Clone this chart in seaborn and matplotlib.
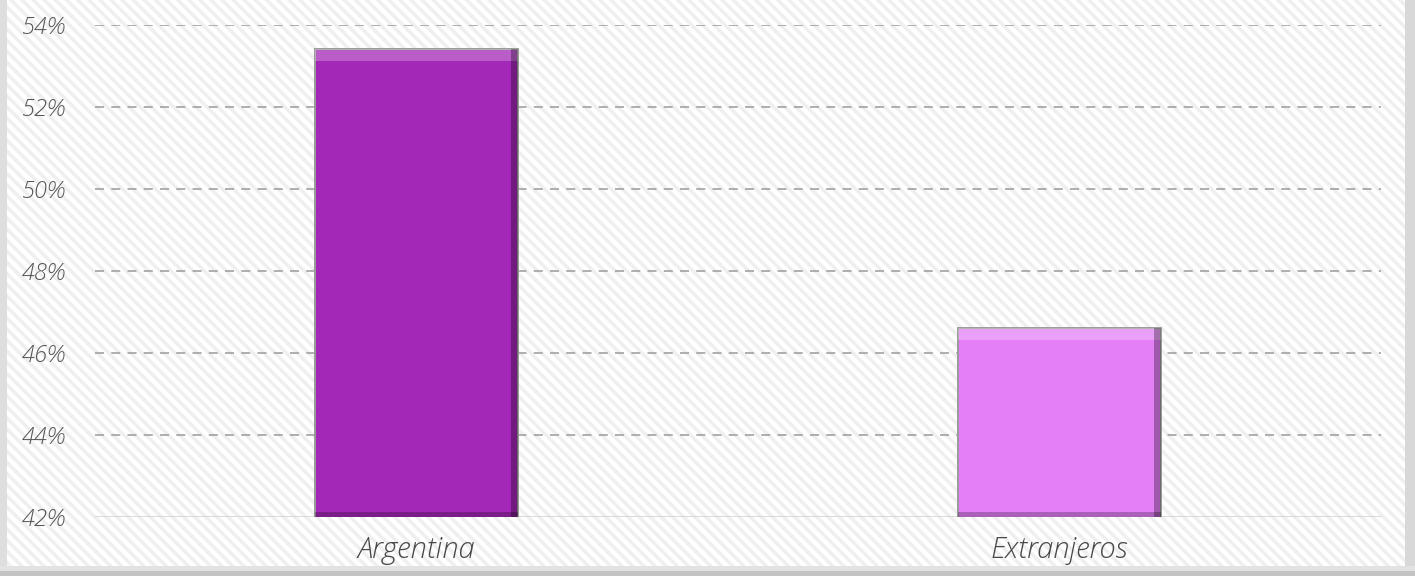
import numpy as np
import pandas as pd
import seaborn as sns
import matplotlib.pyplot as plt
from matplotlib.patches import Rectangle
from matplotlib.ticker import FuncFormatter

# data
categories = ['Argentina', 'Extranjeros']
shares = [53.4, 46.6]
bar_colors = ['#a328b8', '#e47ff8']
y_ticks = [42, 44, 46, 48, 50, 52, 54]

df = pd.DataFrame({'origen': categories, 'pct': shares})

sns.set_theme(style='white')
plt.rcParams['font.family'] = ['Open Sans', 'DejaVu Sans']
plt.rcParams['hatch.color'] = '#efefef'
plt.rcParams['hatch.linewidth'] = 2.5

fig = plt.figure(figsize=(14.15, 5.76), dpi=100)
fig.patch.set_facecolor('white')

# striped background over the whole figure
bg = Rectangle((0, 0), 1, 1, transform=fig.transFigure, facecolor='white',
               edgecolor='#efefef', hatch='\\\\\\', linewidth=0, zorder=-10)
fig.patches.append(bg)
# soft frame shadows (left, right, bottom)
for x0, y0, w, h, c in [(0, 0, 0.005, 1, '#dedede'), (0.993, 0, 0.007, 1, '#d8d8d8'),
                        (0, 0, 1, 0.008, '#c4c4c4'), (0, 0.008, 1, 0.01, '#e2e2e2')]:
    fig.patches.append(Rectangle((x0, y0), w, h, transform=fig.transFigure,
                                 facecolor=c, edgecolor='none', zorder=-5))

ax = fig.add_axes([0.067, 0.102, 0.909, 0.855])
ax.patch.set_alpha(0)

sns.barplot(data=df, x='origen', y='pct', hue='origen', palette=bar_colors,
            saturation=1, width=0.315, legend=False, ax=ax, edgecolor='#9a9a9a',
            linewidth=1.4, zorder=3)

# bevel look: light top strip, darker right and bottom strips
for bar in ax.patches[:len(categories)]:
    x, w, top = bar.get_x(), bar.get_width(), bar.get_height()
    ax.add_patch(Rectangle((x, top - 0.28), w, 0.28, facecolor='white',
                           alpha=0.25, edgecolor='none', zorder=4))
    ax.add_patch(Rectangle((x + w - 0.011, 42), 0.011, top - 42, facecolor='black',
                           alpha=0.3, edgecolor='none', zorder=4))
    ax.add_patch(Rectangle((x, 42), w, 0.12, facecolor='black',
                           alpha=0.25, edgecolor='none', zorder=4))

ax.set_ylim(42, 54)
ax.set_xlim(-0.5, 1.5)
ax.set_yticks(y_ticks)
ax.yaxis.set_major_formatter(FuncFormatter(lambda v, p: f'{v:.0f}%'))
for t in y_ticks[1:]:
    ax.axhline(t, color='#a8a8a8', linestyle=(0, (5, 4)), linewidth=1.3, zorder=1)
ax.axhline(42, color='#d6d6d6', linewidth=2, zorder=2)

for s in ax.spines.values():
    s.set_visible(False)
ax.tick_params(axis='y', length=0, pad=21, labelsize=17, labelcolor='#555555')
ax.tick_params(axis='x', length=0, pad=13, labelsize=21, labelcolor='#484848')
for lab in ax.get_yticklabels() + ax.get_xticklabels():
    lab.set_fontstyle('italic')
    lab.set_fontweight('light')
ax.set_xlabel('')
ax.set_ylabel('')

fig.savefig('out.png', dpi=100)
